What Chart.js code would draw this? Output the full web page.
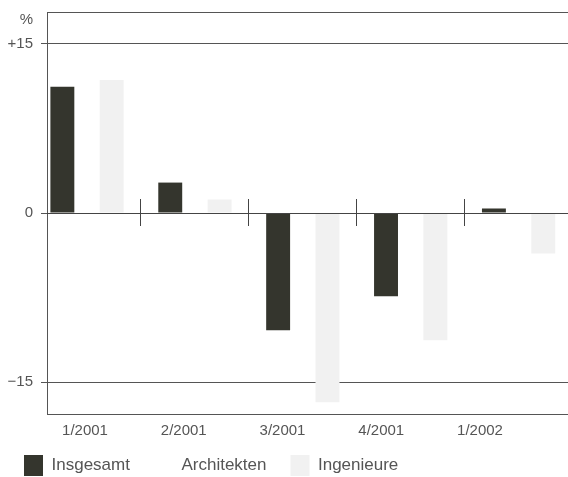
<!DOCTYPE html>
<html>
<head>
<meta charset="utf-8">
<script src="https://cdn.jsdelivr.net/npm/chart.js@4/dist/chart.umd.min.js"></script>
<style>
    html, body { margin: 0; padding: 0; background: #ffffff; overflow: hidden; }
    #wrap { width: 568px; height: 477px; position: relative; }
</style>
</head>
<body>
<div id="wrap"><canvas id="quarterChart"></canvas></div>
<script>
// Veränderung gegenüber Vorjahresquartal
const quarters = ['1/2001', '2/2001', '3/2001', '4/2001', '1/2002'];
const insgesamt = [11.2, 2.7, -10.4, -7.4, 0.4];
const architekten = [4.0, -1.0, -6.5, -4.5, 1.5];   // white bars, not readable in the original
const ingenieure = [11.8, 1.2, -16.8, -11.3, -3.6];
const yTickValues = [-15, 0, 15];
const yTickLabels = ['\u221215', '0', '+15'];
const unitLabel = '%';

const Y_MIN = -17.84, Y_MAX = 17.84, UNIT_AT = 17.1;
const TEXT = '#555555';
const LINE = '#555555';

Chart.defaults.font.family = '"Liberation Sans", Arial, sans-serif';
Chart.defaults.color = TEXT;

function points(values) {
    return values.map((v, i) => ({ x: i, y: v }));
}

document.addEventListener('DOMContentLoaded', function() {
    renderQuarterChart();
});

function renderQuarterChart() {
    const ctx = document.getElementById('quarterChart').getContext('2d');
    new Chart(ctx, {
        type: 'bar',
        data: {
            datasets: [
                { label: 'Insgesamt', data: points(insgesamt), backgroundColor: '#34352d' },
                { label: 'Architekten', data: points(architekten), backgroundColor: '#ffffff' },
                { label: 'Ingenieure', data: points(ingenieure), backgroundColor: '#f1f1f1' }
            ]
        },
        options: {
            responsive: true,
            maintainAspectRatio: false,
            animation: false,
            layout: { padding: { top: 12, left: 0, right: 0, bottom: -9 } },
            datasets: {
                bar: { categoryPercentage: 0.686, barPercentage: 0.97, borderWidth: 0, inflateAmount: 0 }
            },
            plugins: {
                tooltip: { enabled: false },
                legend: {
                    position: 'bottom',
                    align: 'start',
                    // empty title only keeps room for the quarter labels above the legend
                    title: { display: true, text: '', font: { size: 10 }, padding: { top: 5, bottom: 0 } },
                    labels: {
                        boxWidth: 19,
                        boxHeight: 21,
                        padding: 24,
                        color: TEXT,
                        font: { size: 17 }
                    }
                }
            },
            scales: {
                // bar positions + group separators crossing the zero line
                x: {
                    type: 'linear',
                    position: { y: 1.2 },
                    min: -0.371,
                    max: 4.458,
                    offset: false,
                    afterBuildTicks: s => { s.ticks = quarters.slice(1).map((q, i) => ({ value: i + 0.5 })); },
                    afterFit: s => { s.height = 0; },
                    ticks: { display: false },
                    grid: { offset: false, drawOnChartArea: false, drawTicks: true, tickLength: 27, tickColor: '#444444' },
                    border: { display: false }
                },
                // zero line drawn above the bars
                zero: {
                    type: 'linear',
                    axis: 'x',
                    position: { y: 0 },
                    min: 0,
                    max: 1,
                    offset: false,
                    afterFit: s => { s.height = 0; },
                    ticks: { display: false },
                    grid: { display: false, offset: false },
                    border: { display: true, color: '#444444', width: 1, z: 1 }
                },
                // quarter labels under the plot
                q: {
                    type: 'linear',
                    axis: 'x',
                    position: { y: Y_MIN },
                    min: -0.385,
                    max: 4.891,
                    offset: false,
                    afterBuildTicks: s => { s.ticks = quarters.map((q, i) => ({ value: i })); },
                    afterFit: s => { s.height = 0; },
                    ticks: {
                        autoSkip: false,
                        maxRotation: 0,
                        padding: 8,
                        color: TEXT,
                        font: { size: 15 },
                        callback: v => quarters[v]
                    },
                    grid: { display: false, drawTicks: false, offset: false },
                    border: { display: true, color: LINE, width: 1 }
                },
                y: {
                    position: 'left',
                    min: Y_MIN,
                    max: Y_MAX,
                    afterFit: s => { s.width = 47; },
                    afterBuildTicks: s => {
                        s.ticks = yTickValues.map(v => ({ value: v }))
                            .concat([{ value: UNIT_AT }, { value: Y_MAX }]);
                    },
                    ticks: {
                        padding: 8,
                        color: TEXT,
                        font: { size: 15 },
                        callback: v => {
                            const i = yTickValues.indexOf(v);
                            if (i >= 0) return yTickLabels[i];
                            return v === UNIT_AT ? unitLabel : [];
                        }
                    },
                    grid: {
                        tickLength: 6,
                        lineWidth: 1,
                        color: c => (c.tick && (c.tick.value === UNIT_AT || c.tick.value === 0)) ? 'rgba(0,0,0,0)' : LINE,
                        tickColor: c => (c.tick && (c.tick.value === UNIT_AT || c.tick.value === Y_MAX)) ? 'rgba(0,0,0,0)' : LINE
                    },
                    border: { display: true, color: LINE, width: 1 }
                }
            }
        }
    });
}
</script>
</body>
</html>
